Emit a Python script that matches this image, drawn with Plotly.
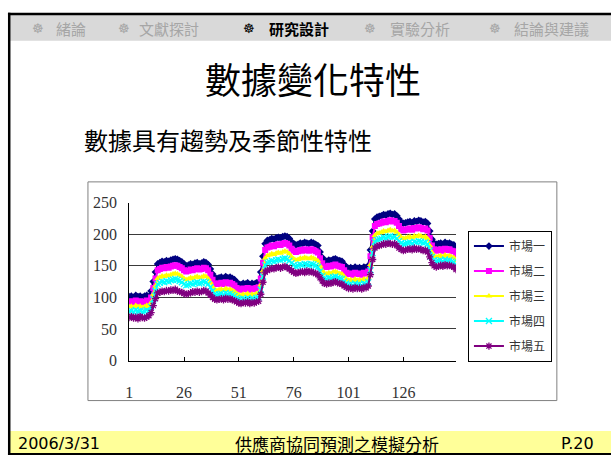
import plotly.graph_objects as go

# ---- data -------------------------------------------------------------
series_names = ["市場一", "市場二", "市場三", "市場四", "市場五"]

market_1 = [101, 102, 100, 103, 101, 102, 100, 102, 103, 101,
            110, 125, 140, 153,
            155, 157, 156, 158, 157, 159, 160, 161, 160, 158, 156, 153,
            150, 151,
            153, 152, 154, 155, 153, 154, 156, 155, 152,
            145, 137, 131, 130,
            131, 132, 130, 133, 131, 132, 130, 128,
            124, 121,
            120, 122, 121, 123, 120, 122, 121, 123, 124,
            140, 165, 185, 190,
            191, 193, 192, 194, 195, 194, 196, 197, 196, 193,
            188, 185, 183, 184,
            186, 185, 187, 186, 185, 187, 186, 184, 182,
            172, 163, 158, 157,
            159, 158, 160, 161, 159, 158, 157,
            152, 148, 146,
            147, 145, 148, 146, 147, 145, 148, 147, 150,
            175, 205, 224, 227,
            228, 229, 231, 230, 232, 233, 231, 232, 229,
            224, 219, 217, 218,
            219, 220, 218, 221, 220, 222, 221, 219, 220, 217,
            205, 192, 186, 184,
            185, 186, 184, 187, 185, 186, 184, 183,
            178]

market_2 = [93, 94, 92, 95, 93, 94, 92, 93, 95, 93,
            100, 115, 130, 143,
            145, 147, 146, 148, 147, 149, 150, 151, 150, 148, 146, 143,
            141, 142,
            144, 143, 145, 146, 144, 145, 147, 146, 143,
            136, 128, 122, 121,
            122, 123, 121, 124, 122, 123, 121, 119,
            115, 113,
            112, 114, 113, 115, 112, 114, 113, 115, 116,
            130, 155, 175, 179,
            180, 182, 181, 183, 184, 183, 185, 186, 185, 182,
            177, 174, 172, 173,
            175, 174, 176, 175, 174, 176, 175, 173, 171,
            162, 154, 149, 148,
            150, 149, 151, 152, 150, 149, 148,
            143, 139, 137,
            138, 136, 139, 137, 138, 136, 139, 138, 141,
            165, 195, 213, 216,
            217, 218, 220, 219, 221, 222, 220, 221, 218,
            213, 208, 206, 207,
            208, 209, 207, 210, 209, 211, 210, 208, 209, 206,
            194, 182, 176, 174,
            175, 176, 174, 177, 175, 176, 174, 173,
            168]

market_3 = [85, 86, 84, 87, 85, 86, 84, 85, 87, 85,
            92, 105, 118, 130,
            132, 134, 133, 135, 134, 136, 137, 138, 137, 135, 133, 130,
            128, 129,
            131, 130, 132, 133, 131, 132, 134, 133, 130,
            124, 117, 112, 111,
            112, 113, 111, 114, 112, 113, 111, 109,
            106, 104,
            103, 105, 104, 106, 103, 105, 104, 106, 107,
            120, 142, 162, 166,
            167, 169, 168, 170, 171, 170, 172, 173, 172, 169,
            164, 161, 159, 160,
            162, 161, 163, 162, 161, 163, 162, 160, 158,
            150, 143, 138, 137,
            139, 138, 140, 141, 139, 138, 137,
            133, 129, 127,
            128, 126, 129, 127, 128, 126, 129, 128, 131,
            152, 180, 198, 201,
            202, 203, 205, 204, 206, 207, 205, 206, 203,
            199, 195, 193, 194,
            195, 196, 194, 197, 196, 198, 197, 195, 196, 193,
            182, 171, 166, 164,
            165, 166, 164, 167, 165, 166, 164, 163,
            158]

market_4 = [78, 79, 77, 80, 78, 79, 77, 78, 80, 78,
            85, 97, 110, 121,
            123, 125, 124, 126, 125, 127, 128, 129, 128, 126, 124, 121,
            119, 120,
            122, 121, 123, 124, 122, 123, 125, 124, 121,
            116, 110, 105, 104,
            105, 106, 104, 107, 105, 106, 104, 102,
            99, 97,
            96, 98, 97, 99, 96, 98, 97, 99, 100,
            112, 133, 151, 155,
            156, 158, 157, 159, 160, 159, 161, 162, 161, 158,
            154, 151, 149, 150,
            152, 151, 153, 152, 151, 153, 152, 150, 148,
            141, 134, 130, 129,
            131, 130, 132, 133, 131, 130, 129,
            125, 122, 120,
            121, 119, 122, 120, 121, 119, 122, 121, 124,
            143, 170, 188, 191,
            192, 193, 195, 194, 196, 197, 195, 196, 193,
            189, 186, 184, 185,
            186, 187, 185, 188, 187, 189, 188, 186, 187, 184,
            174, 164, 159, 157,
            158, 159, 157, 160, 158, 159, 157, 156,
            151]

market_5 = [68, 70, 67, 69, 66, 70, 68, 67, 69, 71,
            76, 87, 98, 107,
            108, 110, 109, 111, 110, 112, 111, 113, 110, 109, 108, 106,
            105, 106,
            107, 109, 108, 110, 108, 109, 111, 110, 107,
            104, 100, 97, 96,
            97, 98, 96, 99, 97, 98, 96, 95,
            93, 91,
            90, 92, 91, 93, 90, 92, 91, 93, 94,
            105, 124, 140, 143,
            144, 146, 145, 147, 148, 146, 148, 149, 147, 145,
            142, 140, 138, 139,
            140, 141, 139, 142, 140, 141, 139, 138, 136,
            131, 126, 122, 121,
            123, 122, 124, 125, 123, 122, 121,
            118, 116, 114,
            115, 113, 116, 114, 115, 113, 116, 115, 118,
            136, 160, 178, 181,
            182, 183, 185, 184, 186, 185, 184, 185, 182,
            178, 176, 174, 175,
            176, 177, 175, 178, 176, 177, 176, 174, 175, 172,
            164, 155, 150, 148,
            149, 151, 149, 152, 150, 151, 149, 148,
            144]

x_tick_values = [1, 26, 51, 76, 101, 126]
y_tick_values = [0, 50, 100, 150, 200, 250]

nav_items = ["緒論", "文獻探討", "研究設計", "實驗分析", "結論與建議"]
active_nav = "研究設計"

title_text = "數據變化特性"
subtitle_text = "數據具有趨勢及季節性特性"
footer_date = "2006/3/31"
footer_title = "供應商協同預測之模擬分析"
footer_page = "P.20"

# ---- page geometry helpers ---------------------------------------------
W, H = 611, 464


def px(x):
    return x / W


def py(y):
    return 1 - y / H


CJK = "Noto Sans CJK TC"
SERIF = "Liberation Serif"

styles = [
    dict(color="#000080", symbol="diamond", line=dict(width=0)),
    dict(color="#ff00ff", symbol="square", line=dict(width=0)),
    dict(color="#ffff00", symbol="triangle-up", line=dict(width=0)),
    dict(color="#00ffff", symbol="x-thin-open", line=dict(width=1.3, color="#00ffff")),
    dict(color="#800080", symbol="asterisk-open", line=dict(width=1.3, color="#800080")),
]
line_colors = ["#000080", "#ff00ff", "#ffff00", "#00ffff", "#800080"]

fig = go.Figure()
for name, vals, st, lc in zip(series_names,
                              [market_1, market_2, market_3, market_4, market_5],
                              styles, line_colors):
    fig.add_trace(go.Scatter(
        x=list(range(1, len(vals) + 1)),
        y=vals,
        name=name,
        legendgroup=name,
        mode="lines+markers",
        line=dict(color=lc, width=2),
        marker=dict(size=6, **st),
    ))

# ---- slide frame -------------------------------------------------------
shapes = [
    # navigation band
    dict(type="rect", xref="paper", yref="paper", x0=px(6), x1=px(611), y0=py(34), y1=py(7),
         fillcolor="#d9d9d9", line=dict(width=0), layer="below"),
    # footer band
    dict(type="rect", xref="paper", yref="paper", x0=px(6), x1=px(611), y0=py(462), y1=py(439),
         fillcolor="#ffff99", line=dict(width=0), layer="below"),
    # top rule
    dict(type="rect", xref="paper", yref="paper", x0=px(4), x1=px(611), y0=py(7.5), y1=py(5),
         fillcolor="#000000", line=dict(width=0), layer="below"),
    # bottom rule
    dict(type="rect", xref="paper", yref="paper", x0=px(4), x1=px(611), y0=py(464), y1=py(462),
         fillcolor="#000000", line=dict(width=0), layer="below"),
    # left rule
    dict(type="rect", xref="paper", yref="paper", x0=px(4), x1=px(6.5), y0=py(464), y1=py(5),
         fillcolor="#000000", line=dict(width=0), layer="below"),
    # chart frame
    dict(type="rect", xref="paper", yref="paper", x0=px(84.5), x1=px(556.5), y0=py(407.5), y1=py(180.5),
         fillcolor="#ffffff", line=dict(width=1, color="#808080"), layer="below"),
]

annotations = []
icon_x = [34, 121, 247, 368, 494]
text_x = [50, 134, 265, 387, 511]
for item, ix, tx in zip(nav_items, icon_x, text_x):
    active = item == active_nav
    col = "#000000" if active else "#a6a6a6"
    annotations.append(dict(x=px(ix), y=py(21), xref="paper", yref="paper", text="☸",
                            showarrow=False, xanchor="center", yanchor="middle",
                            font=dict(family="DejaVu Sans", size=13, color=col)))
    annotations.append(dict(x=px(tx), y=py(21), xref="paper", yref="paper",
                            text=f"<b>{item}</b>" if active else item,
                            showarrow=False, xanchor="left", yanchor="middle",
                            font=dict(family=CJK, size=15, color=col)))

annotations += [
    dict(x=px(311), y=py(73), xref="paper", yref="paper", text=title_text, showarrow=False,
         xanchor="center", yanchor="middle", font=dict(family=CJK, size=36, color="#000000")),
    dict(x=px(79), y=py(137), xref="paper", yref="paper", text=subtitle_text, showarrow=False,
         xanchor="left", yanchor="middle", font=dict(family=CJK, size=24, color="#000000")),
    dict(x=px(12), y=py(452), xref="paper", yref="paper", text=footer_date, showarrow=False,
         xanchor="left", yanchor="middle", font=dict(family="DejaVu Sans", size=16, color="#000000")),
    dict(x=px(335), y=py(452), xref="paper", yref="paper", text=footer_title, showarrow=False,
         xanchor="center", yanchor="middle", font=dict(family=CJK, size=17, color="#000000")),
    dict(x=px(596), y=py(452), xref="paper", yref="paper", text=footer_page, showarrow=False,
         xanchor="right", yanchor="middle", font=dict(family="DejaVu Sans", size=16, color="#000000")),
]

fig.update_layout(
    width=W, height=H,
    margin=dict(l=0, r=0, t=0, b=0),
    paper_bgcolor="#ffffff",
    plot_bgcolor="#c0c0c0",
    font=dict(family=CJK, color="#000000"),
    shapes=shapes,
    annotations=annotations,
    showlegend=True,
    legend=dict(
        x=px(467), y=py(231), xanchor="left", yanchor="top",
        bgcolor="#ffffff", bordercolor="#000000", borderwidth=1,
        font=dict(family=CJK, size=12, color="#333333"),
        tracegroupgap=6, itemwidth=30,
    ),
    xaxis=dict(
        domain=[px(126), px(455)],
        range=[1, 150],
        tickvals=x_tick_values,
        ticktext=[str(v) for v in x_tick_values],
        ticks="inside", ticklen=4, tickcolor="#000000",
        showline=True, linecolor="#000000", linewidth=1,
        showgrid=False, zeroline=False,
        ticklabelstandoff=17,
        tickfont=dict(family=SERIF, size=16, color="#333333"),
    ),
    yaxis=dict(
        domain=[py(366), py(202)],
        range=[0, 250],
        tickvals=y_tick_values,
        showline=True, linecolor="#000000", linewidth=1,
        showgrid=True, gridcolor="#3a3a3a", gridwidth=1,
        zeroline=False,
        ticks="", ticklabelstandoff=8,
        tickfont=dict(family=SERIF, size=16, color="#333333"),
    ),
)

fig.write_html("out.html")
